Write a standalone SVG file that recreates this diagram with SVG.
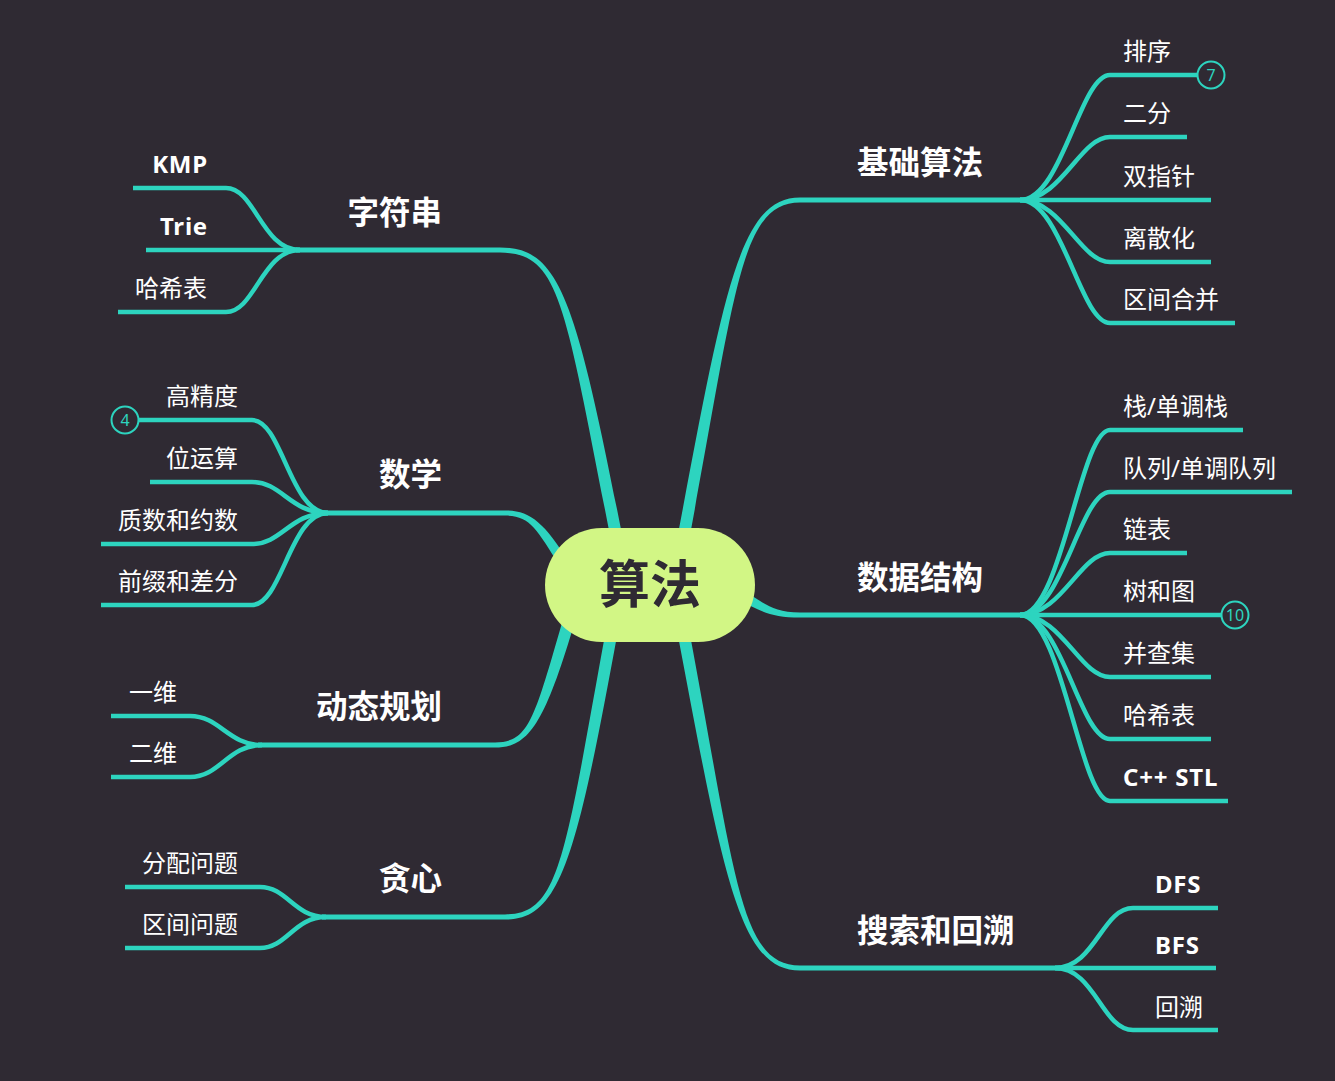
<svg xmlns="http://www.w3.org/2000/svg" width="1335" height="1081" viewBox="0 0 1335 1081">
<style>
.bg{fill:#2f2a33}
.main{fill:#2dd4bf}
.sub{fill:none;stroke:#2dd4bf;stroke-width:4.5}
.mt{font-family:"Noto Sans CJK SC","Noto Sans",sans-serif;font-weight:700;font-size:31.5px;fill:#ffffff}
.ct{font-family:"Noto Sans","Noto Sans CJK SC",sans-serif;font-size:24px;fill:#ffffff}
.lt{font-family:"Noto Sans","Noto Sans CJK SC",sans-serif;font-size:24px;font-weight:700;fill:#ffffff;letter-spacing:0.8px}
.badge circle{fill:#2f2a33;stroke:#2dd4bf;stroke-width:2}
.badge text{font-family:"Noto Sans",sans-serif;font-size:16px;fill:#2dd4bf;text-anchor:middle}
.end{text-anchor:end}
</style>
<rect class="bg" x="0" y="0" width="1335" height="1081"/>
<g id="connectors">
<path class="main" d="M 688.9 540.9 C 735.9 290.9 740 202.6 800 202.6 L 1025 202.6 L 1025 197.4 L 800 197.4 C 740 197.4 724.1 289.1 677.1 539.1 Z"/>
<path class="main" d="M 737.8 599.5 C 757.8 609.5 770 617.6 800 617.6 L 1025 617.6 L 1025 612.4 L 800 612.4 C 770 612.4 762.2 600.5 742.2 590.5 Z"/>
<path class="main" d="M 677.1 630.9 C 724.1 880.9 740 970.6 800 970.6 L 1060 970.6 L 1060 965.4 L 800 965.4 C 740 965.4 735.9 879.1 688.9 629.1 Z"/>
<path class="main" d="M 622.9 539 C 575.9 299 560 247.4 500 247.4 L 296 247.4 L 296 252.6 L 500 252.6 C 560 252.6 564.1 301 611.1 541 Z"/>
<path class="main" d="M 569.2 562.35 C 544.2 522.35 530 510.4 505 510.4 L 324 510.4 L 324 515.6 L 505 515.6 C 530 515.6 535.8 527.65 560.8 567.65 Z"/>
<path class="main" d="M 566.2 608.6 C 534.2 718.6 530 742.4 495 742.4 L 258 742.4 L 258 747.6 L 495 747.6 C 530 747.6 545.8 721.4 577.8 611.4 Z"/>
<path class="main" d="M 606.1 629.1 C 564.1 859.1 560 914.4 505 914.4 L 322 914.4 L 322 919.6 L 505 919.6 C 560 919.6 575.9 860.9 617.9 630.9 Z"/>
<path class="sub" d="M 1020 200 C 1062 200 1080 75 1110 75 L 1198 75"/>
<path class="sub" d="M 1020 200 C 1062 200 1080 137 1110 137 L 1187 137"/>
<path class="sub" d="M 1020 200 L 1211 200"/>
<path class="sub" d="M 1020 200 C 1062 200 1080 262 1110 262 L 1211 262"/>
<path class="sub" d="M 1020 200 C 1062 200 1080 323 1110 323 L 1235 323"/>
<path class="sub" d="M 1020 615 C 1062 615 1080 430 1110 430 L 1243 430"/>
<path class="sub" d="M 1020 615 C 1062 615 1080 492 1110 492 L 1292 492"/>
<path class="sub" d="M 1020 615 C 1062 615 1080 553 1110 553 L 1187 553"/>
<path class="sub" d="M 1020 615 L 1222 615"/>
<path class="sub" d="M 1020 615 C 1062 615 1080 677 1110 677 L 1211 677"/>
<path class="sub" d="M 1020 615 C 1062 615 1080 739 1110 739 L 1211 739"/>
<path class="sub" d="M 1020 615 C 1062 615 1080 801 1110 801 L 1228 801"/>
<path class="sub" d="M 1055 968 C 1095 968 1102 908 1133 908 L 1218 908"/>
<path class="sub" d="M 1055 968 L 1216 968"/>
<path class="sub" d="M 1055 968 C 1095 968 1102 1030 1133 1030 L 1218 1030"/>
<path class="sub" d="M 300 250 C 262 250 255 188 226 188 L 133 188"/>
<path class="sub" d="M 300 250 L 146 250"/>
<path class="sub" d="M 300 250 C 262 250 255 312 226 312 L 118 312"/>
<path class="sub" d="M 328 513 C 290 513 282 420 252 420 L 138 420"/>
<path class="sub" d="M 328 513 C 290 513 282 482 252 482 L 150 482"/>
<path class="sub" d="M 328 513 C 290 513 282 544 252 544 L 101 544"/>
<path class="sub" d="M 328 513 C 290 513 282 605 252 605 L 101 605"/>
<path class="sub" d="M 262 745 C 228 745 220 716 190 716 L 111 716"/>
<path class="sub" d="M 262 745 C 228 745 220 777 190 777 L 111 777"/>
<path class="sub" d="M 326 917 C 294 917 287 887 260 887 L 125 887"/>
<path class="sub" d="M 326 917 C 294 917 287 948 260 948 L 125 948"/>
</g>
<g id="root">
<rect x="545" y="528" width="210" height="114" rx="57" fill="#d2f685"/>
<text x="650" y="603" text-anchor="middle" style="font-family:'Noto Sans CJK SC',sans-serif;font-weight:700;font-size:51px;fill:#2f2a33">算法</text>
</g>
<g id="n-jichu"><text class="mt" x="857" y="174">基础算法</text></g>
<g id="n-paixu"><text class="ct" x="1123" y="60">排序</text>
<g class="badge"><circle cx="1211" cy="75" r="13.5"/><text x="1211" y="80.5">7</text></g></g>
<g id="n-erfen"><text class="ct" x="1123" y="122">二分</text></g>
<g id="n-shuangzhizhen"><text class="ct" x="1123" y="185">双指针</text></g>
<g id="n-lisanhua"><text class="ct" x="1123" y="247">离散化</text></g>
<g id="n-qujianhebing"><text class="ct" x="1123" y="308">区间合并</text></g>
<g id="n-shujujiegou"><text class="mt" x="857" y="589">数据结构</text></g>
<g id="n-zhan"><text class="ct" x="1123" y="415">栈/单调栈</text></g>
<g id="n-duilie"><text class="ct" x="1123" y="477">队列/单调队列</text></g>
<g id="n-lianbiao"><text class="ct" x="1123" y="538">链表</text></g>
<g id="n-shuhetu"><text class="ct" x="1123" y="600">树和图</text>
<g class="badge"><circle cx="1235" cy="615" r="13.5"/><text x="1235" y="620.5">10</text></g></g>
<g id="n-bingchaji"><text class="ct" x="1123" y="662">并查集</text></g>
<g id="n-haxibiao-r"><text class="ct" x="1123" y="724">哈希表</text></g>
<g id="n-stl"><text class="lt" x="1123" y="786">C++ STL</text></g>
<g id="n-sousuo"><text class="mt" x="857" y="942">搜索和回溯</text></g>
<g id="n-dfs"><text class="lt" x="1155" y="893">DFS</text></g>
<g id="n-bfs"><text class="lt" x="1155" y="954">BFS</text></g>
<g id="n-huisu"><text class="ct" x="1155" y="1016">回溯</text></g>
<g id="n-zifuchuan"><text class="mt end" x="442" y="224">字符串</text></g>
<g id="n-kmp"><text class="lt end" x="208" y="173">KMP</text></g>
<g id="n-trie"><text class="lt end" x="208" y="235">Trie</text></g>
<g id="n-haxibiao-l"><text class="ct end" x="207" y="297">哈希表</text></g>
<g id="n-shuxue"><text class="mt end" x="442" y="486">数学</text></g>
<g id="n-gaojingdu"><text class="ct end" x="238" y="405">高精度</text>
<g class="badge"><circle cx="125" cy="420" r="13.5"/><text x="125" y="425.5">4</text></g></g>
<g id="n-weiyunsuan"><text class="ct end" x="238" y="467">位运算</text></g>
<g id="n-zhishu"><text class="ct end" x="238" y="529">质数和约数</text></g>
<g id="n-qianzhui"><text class="ct end" x="238" y="590">前缀和差分</text></g>
<g id="n-dongtai"><text class="mt end" x="442" y="718">动态规划</text></g>
<g id="n-yiwei"><text class="ct end" x="177" y="701">一维</text></g>
<g id="n-erwei"><text class="ct end" x="177" y="762">二维</text></g>
<g id="n-tanxin"><text class="mt end" x="442" y="890">贪心</text></g>
<g id="n-fenpei"><text class="ct end" x="238" y="872">分配问题</text></g>
<g id="n-qujian"><text class="ct end" x="238" y="933">区间问题</text></g>
</svg>
